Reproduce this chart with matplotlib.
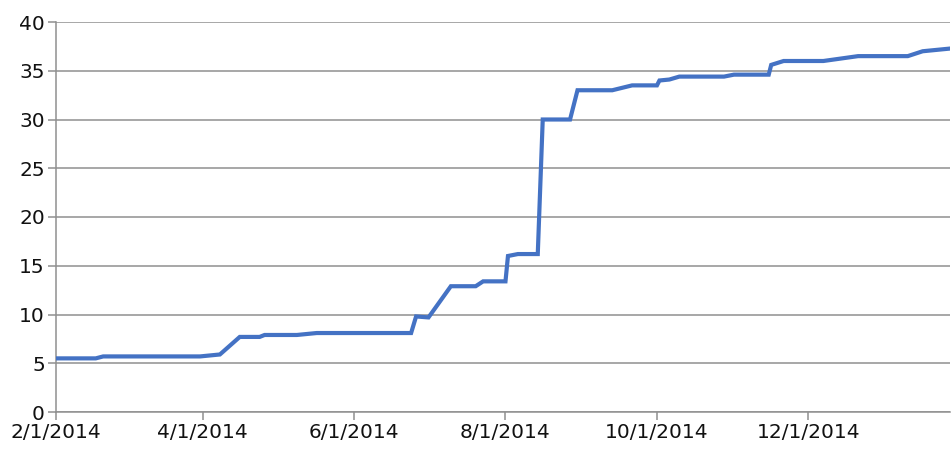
import matplotlib
matplotlib.use("Agg")
import matplotlib.pyplot as plt
import matplotlib.dates as mdates
import pandas as pd

# values
dates = [
    "2014-02-01", "2014-02-17", "2014-02-20", "2014-03-31", "2014-04-08",
    "2014-04-16", "2014-04-24", "2014-04-26", "2014-05-09", "2014-05-17",
    "2014-06-24", "2014-06-26", "2014-07-01", "2014-07-10", "2014-07-20",
    "2014-07-23", "2014-08-01", "2014-08-02", "2014-08-06", "2014-08-14",
    "2014-08-16", "2014-08-27", "2014-08-28", "2014-08-30", "2014-09-13",
    "2014-09-21", "2014-10-01", "2014-10-02", "2014-10-06", "2014-10-10",
    "2014-10-28", "2014-11-01", "2014-11-15", "2014-11-16", "2014-11-21",
    "2014-12-07", "2014-12-21", "2015-01-10", "2015-01-16", "2015-01-28",
]
values = [
    5.5, 5.5, 5.7, 5.7, 5.9,
    7.7, 7.7, 7.9, 7.9, 8.1,
    8.1, 9.8, 9.7, 12.9, 12.9,
    13.4, 13.4, 16.0, 16.2, 16.2,
    30.0, 30.0, 31.0, 33.0, 33.0,
    33.5, 33.5, 34.0, 34.1, 34.4,
    34.4, 34.6, 34.6, 35.6, 36.0,
    36.0, 36.5, 36.5, 37.0, 37.3,
]
y_ticks = [0, 5, 10, 15, 20, 25, 30, 35, 40]
x_start = "2014-02-01"
x_end = "2015-01-27"

x = pd.to_datetime(dates)

fig = plt.figure(figsize=(9.53, 4.53), dpi=100)
ax = fig.add_axes([56 / 953, 41 / 453, 894 / 953, 390 / 453])

ax.plot(x, values, color="#4472C4", linewidth=3.0, solid_joinstyle="miter", zorder=3)

ax.set_xlim(pd.Timestamp(x_start), pd.Timestamp(x_end))
ax.set_ylim(0, 40)
ax.set_yticks(y_ticks)
ax.xaxis.set_major_locator(mdates.MonthLocator(bymonth=[2, 4, 6, 8, 10, 12]))
ax.xaxis.set_major_formatter(
    plt.FuncFormatter(lambda v, pos: "{d.month}/{d.day}/{d.year}".format(d=mdates.num2date(v)))
)

ax.grid(axis="y", color="#8f8f8f", linewidth=1.1, zorder=0)
for side in ["top", "right"]:
    ax.spines[side].set_visible(False)
for side in ["left", "bottom"]:
    ax.spines[side].set_color("#8f8f8f")
    ax.spines[side].set_linewidth(1.1)
ax.tick_params(axis="both", colors="#8f8f8f", labelcolor="#111111",
               labelsize=14.5, length=6, width=1.1)
ax.tick_params(axis="y", pad=2)
ax.tick_params(axis="x", pad=2)

fig.savefig("out.png", dpi=100)
